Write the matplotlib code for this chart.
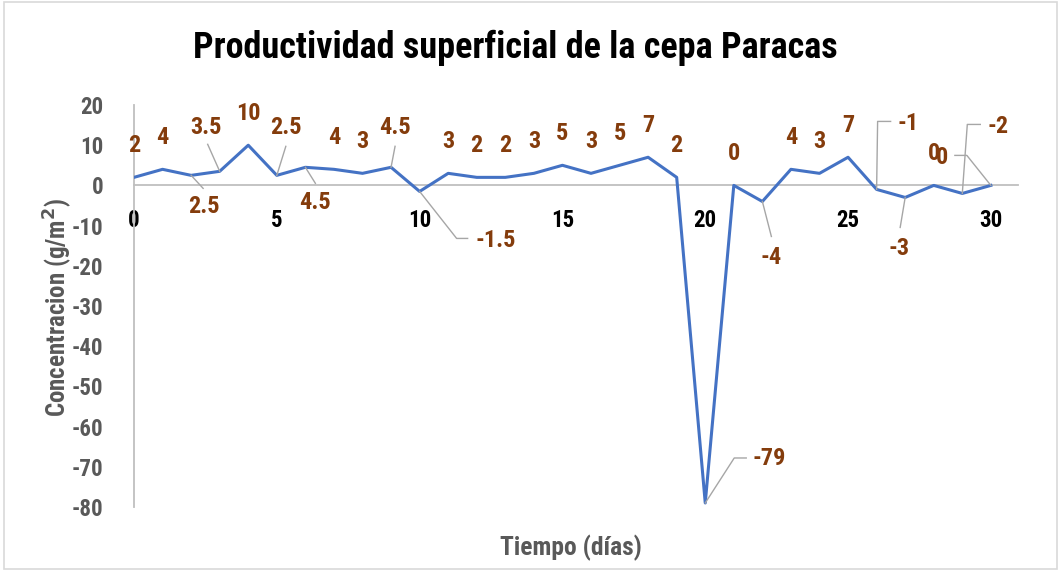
import matplotlib
matplotlib.use("Agg")
import matplotlib.pyplot as plt
import matplotlib.transforms as mtransforms
from matplotlib.patches import Rectangle

plt.rcParams["font.family"] = ["Roboto Condensed", "Liberation Sans Narrow",
                               "Liberation Sans", "DejaVu Sans"]
plt.rcParams["font.weight"] = "bold"
plt.rcParams["axes.unicode_minus"] = False

# data
dias = list(range(0, 31))
concentracion = [2, 4, 2.5, 3.5, 10, 2.5, 4.5, 4, 3, 4.5, -1.5, 3, 2, 2, 3, 5,
                 3, 5, 7, 2, -79, 0, -4, 4, 3, 7, -1, -3, 0, -2, 0]
etiquetas = ["2", "4", "2.5", "3.5", "10", "2.5", "4.5", "4", "3", "4.5", "-1.5",
             "3", "2", "2", "3", "5", "3", "5", "7", "2", "-79", "0", "-4",
             "4", "3", "7", "-1", "-3", "0", "-2", "0"]
x_ticks = [0, 5, 10, 15, 20, 25, 30]
y_ticks = [20, 10, 0, -10, -20, -30, -40, -50, -60, -70, -80]

# label placement (pixel offsets from the point, image y goes down) and leader paths
lbl_off = {i: (0, -32) for i in dias}
lbl_off.update({2: (13, 31), 3: (-14, -44), 5: (9, -48), 6: (10, 35), 9: (4, -40),
                10: (76, 49), 20: (64, -44), 22: (9, 56), 26: (31, -66),
                27: (-6, 51), 29: (36, -67), 30: (-49, -28)})
leaders = {2: [(0, 0), (12, 13)], 3: [(0, 0), (-12, -27)], 5: [(0, 0), (9, -29)],
           6: [(0, 0), (10, 16)], 9: [(0, 0), (4, -21)],
           10: [(0, 0), (37, 47), (48, 47)], 20: [(0, 0), (29, -45), (41, -45)],
           22: [(0, 0), (9, 35)], 26: [(0, 0), (1, -68), (14, -68)],
           27: [(0, 0), (-5, 30)], 29: [(0, 0), (5, -69), (18, -69)],
           30: [(0, 0), (-24, -30), (-36, -30)]}

W, H = 1061, 571
fig = plt.figure(figsize=(W / 100, H / 100), dpi=100)
ax = fig.add_axes([134 / W, 1 - 507 / H, (1018 - 134) / W, (507 - 105) / H])

ax.plot(dias, concentracion, color="#4472C4", lw=2.2, zorder=3)
ax.set_xlim(0, 30.95)
ax.set_ylim(-80, 20)
ax.set_xticks(x_ticks)
ax.set_yticks(y_ticks)
ax.tick_params(length=0)
ax.tick_params(axis="x", colors="black", labelsize=16.5, pad=17)
ax.tick_params(axis="y", colors="#595959", labelsize=16.5, pad=22)
for s in ["top", "right"]:
    ax.spines[s].set_visible(False)
ax.spines["bottom"].set_position(("data", 0))
for s in ["bottom", "left"]:
    ax.spines[s].set_color("#BFBFBF")
    ax.spines[s].set_linewidth(1.3)
ax.set_facecolor("none")

title = fig.text(515 / W, 1 - 48 / H, "Productividad superficial de la cepa Paracas",
                 ha="center", va="center", fontsize=26, color="black")
ylab = fig.text(58 / W, 1 - 307 / H, "Concentracion (g/m$^2$)", rotation=90,
                ha="center", va="center", fontsize=16, color="#595959")
xlab = fig.text(571 / W, 1 - 548 / H, "Tiempo (días)", ha="center", va="center",
                fontsize=16, color="#595959")

# fit the titles to the widths seen in the reference (narrow font not available)
fig.canvas.draw()
rend = fig.canvas.get_renderer()
for t, target, horiz in [(title, 645, True), (ylab, 220, False), (xlab, 142, True)]:
    bb = t.get_window_extent(rend)
    size = bb.width if horiz else bb.height
    t.set_fontsize(t.get_fontsize() * target / size)

fig.canvas.draw()
ident = mtransforms.IdentityTransform()
for i, (x, y) in enumerate(zip(dias, concentracion)):
    px, py = ax.transData.transform((x, y))
    if i in leaders:
        xs = [px + dx for dx, dy in leaders[i]]
        ys = [py - dy for dx, dy in leaders[i]]
        fig.lines.append(plt.Line2D(xs, ys, transform=ident, color="#A6A6A6", lw=1.0))
    dx, dy = lbl_off[i]
    fig.text(px + dx, py - dy, etiquetas[i], transform=ident, ha="center",
             va="center", fontsize=17.5, color="#843C0C")

fig.patches.append(Rectangle((0.004, 0.004), 0.992, 0.992, transform=fig.transFigure,
                             fill=False, edgecolor="#D9D9D9", lw=1.2))
fig.savefig("out.png", dpi=100)
